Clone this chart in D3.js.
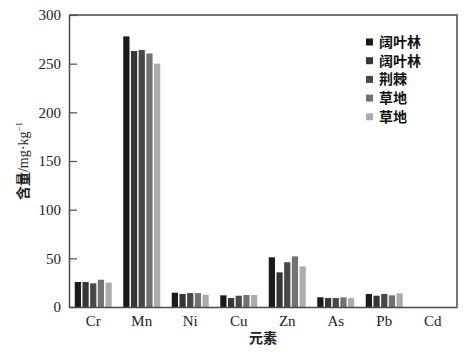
<!DOCTYPE html>
<html><head><meta charset="utf-8">
<script src="https://cdn.jsdelivr.net/npm/d3@7"></script>
<style>body{margin:0;background:#fff}svg{display:block}</style>
</head><body>
<svg id="c" width="473" height="355"></svg>
<script>
const categories = ["Cr","Mn","Ni","Cu","Zn","As","Pb","Cd"];
const seriesNames = ["阔叶林","阔叶林","荆棘","草地","草地"];
const s1 = [25.7, 278, 14.7, 12, 51, 10, 13.4, 0];
const s2 = [25.7, 263, 13.4, 9.2, 35.6, 9.2, 11.6, 0];
const s3 = [24.3, 264, 14.3, 11.6, 46, 9.2, 13.4, 0];
const s4 = [28, 260.5, 14.3, 12.3, 52, 9.9, 12, 0];
const s5 = [25, 250, 12.6, 12.3, 41.7, 9.2, 14, 0];
const series = [s1,s2,s3,s4,s5];
const colors = ["#1a1a1a","#363636","#484848","#727272","#acacac"];
const yTicks = [0,50,100,150,200,250,300];

const svg = d3.select("#c");
const L=69, R=457, T=15, B=307;
const x = d3.scaleBand().domain(categories).range([L,R]).padding(0);
const y = d3.scaleLinear().domain([0,300]).range([B,T]);
const pitch = 7.4, bw = 6;
const xs = d3.scaleBand().domain(d3.range(5)).range([-2.5*pitch, 2.5*pitch]).paddingInner((pitch-bw)/pitch).paddingOuter(0);

// bars
series.forEach((s,i)=>{
  svg.append("g").selectAll("rect").data(s).join("rect")
    .attr("x",(d,j)=>x(categories[j])+x.bandwidth()/2+xs(i))
    .attr("width",xs.bandwidth())
    .attr("y",d=>y(d)).attr("height",d=>B-y(d))
    .attr("fill",colors[i]);
});

// frame
const stroke="#4a4a4a";
svg.append("path").attr("d",`M${L},${T}H${R}V${B}`).attr("fill","none").attr("stroke",stroke).attr("stroke-width",1.5);

// y axis
const ya = d3.axisLeft(y).tickValues(yTicks).tickSizeInner(-8).tickSizeOuter(0).tickPadding(8);
const yg = svg.append("g").attr("transform",`translate(${L},0)`).call(ya);
yg.select(".domain").attr("stroke",stroke).attr("stroke-width",1.5);
yg.selectAll(".tick line").attr("stroke",stroke).attr("stroke-width",1.2);
yg.selectAll("text").attr("font-family","'Liberation Serif',serif").attr("font-size",15).attr("fill","#222");

// x axis
const xa = d3.axisBottom(x).tickSize(0).tickPadding(8).tickSizeOuter(0);
const xg = svg.append("g").attr("transform",`translate(0,${B})`).call(xa);
xg.select(".domain").attr("stroke",stroke).attr("stroke-width",1.5);
xg.selectAll("text").attr("font-family","'Liberation Serif',serif").attr("font-size",15).attr("fill","#222");

// axis titles
svg.append("text").attr("x",(L+R)/2).attr("y",343).attr("text-anchor","middle")
  .attr("font-family","'Noto Sans CJK SC'").attr("font-weight","bold").attr("font-size",14).attr("fill","#222").text("元素");
const yt = svg.append("text").attr("transform",`translate(28,${(T+B)/2}) rotate(-90)`).attr("text-anchor","middle")
  .attr("font-size",14).attr("fill","#222");
yt.append("tspan").attr("font-family","'Noto Sans CJK SC'").attr("font-weight","bold").text("含量");
yt.append("tspan").attr("font-family","'Liberation Serif',serif").text("/mg·kg");
yt.append("tspan").attr("font-family","'Liberation Serif',serif").attr("font-size",9).attr("dy",-6).text("−1");

// legend
const lg = svg.append("g").attr("transform","translate(366,42)");
seriesNames.forEach((n,i)=>{
  const g = lg.append("g").attr("transform",`translate(0,${i*18.7})`);
  g.append("rect").attr("x",0).attr("y",-3.5).attr("width",7).attr("height",7).attr("fill",colors[i]);
  g.append("text").attr("x",13).attr("y",5).attr("font-family","'Noto Sans CJK SC'").attr("font-weight","bold")
   .attr("font-size",14).attr("fill","#111").text(n);
});
</script>
</body></html>
